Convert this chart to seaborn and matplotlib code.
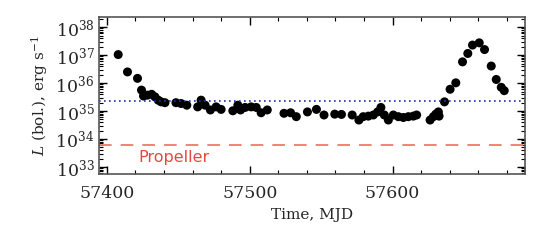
import numpy as np
import pandas as pd
import matplotlib
matplotlib.use("Agg")
import matplotlib.pyplot as plt
import seaborn as sns
from matplotlib.ticker import MultipleLocator, LogLocator

# light curve: time (MJD) and log10 bolometric luminosity
mjd = [57408, 57414.5, 57421.5, 57424.3, 57425.7, 57428.5, 57431.4, 57433.7, 57436, 57438,
       57440.7, 57448.4, 57452, 57456, 57463.6, 57466, 57468.8, 57472.5, 57476.5, 57480,
       57488.2, 57491.7, 57493.6, 57496.8, 57501, 57504.6, 57508, 57512.3, 57524, 57528.6,
       57532.6, 57540.4, 57546.7, 57552, 57559.5, 57564.2, 57571.7, 57576.4, 57579.4, 57583,
       57586.5, 57589.5, 57591.8, 57594.2, 57597, 57600.5, 57604, 57607.5, 57611, 57614.5,
       57616.8, 57626.2, 57628.5, 57630.2, 57632, 57632.5, 57636.3, 57640.2, 57644.2, 57648.9,
       57652.6, 57655.9, 57660.6, 57664.3, 57669, 57672.5, 57676, 57678.1]
log_lum = [37.02, 36.40, 36.17, 35.75, 35.54, 35.57, 35.60, 35.51, 35.39, 35.33,
           35.30, 35.30, 35.27, 35.21, 35.15, 35.39, 35.21, 35.04, 35.15, 35.06,
           35.01, 35.21, 35.04, 35.13, 35.15, 35.13, 34.94, 35.04, 34.92, 34.94,
           34.80, 34.97, 35.06, 34.86, 34.89, 34.88, 34.86, 34.68, 34.80, 34.82,
           34.86, 34.97, 35.13, 34.86, 34.68, 34.86, 34.80, 34.77, 34.80, 34.82,
           34.86, 34.68, 34.80, 34.89, 34.97, 34.82, 35.33, 35.78, 36.01, 36.76,
           37.06, 37.36, 37.44, 37.20, 36.61, 36.13, 35.85, 35.73]

L_blue = 2.3e35       # dotted reference level
L_propeller = 6.0e33  # propeller threshold

df = pd.DataFrame({"mjd": mjd, "L": 10 ** np.array(log_lum)})

sns.set_style("ticks")
plt.rcParams["font.family"] = ["DejaVu Serif"]
plt.rcParams["mathtext.fontset"] = "dejavuserif"

fig = plt.figure(figsize=(5.45, 2.41), dpi=100)
ax = fig.add_axes([0.182, 0.278, 0.781, 0.651])

sns.scatterplot(data=df, x="mjd", y="L", color="black", s=42, edgecolor="none", ax=ax)
ax.axhline(L_blue, color="#1f2fb0", ls=(0, (1, 2)), lw=1.2)
ax.axhline(L_propeller, color="#f07a6a", ls=(0, (7, 5)), lw=1.3)
ax.text(57422, 10 ** 33.35, "Propeller", color="#e04a40", fontsize=11.5,
        family=["DejaVu Sans"], va="center", ha="left")

ax.set_yscale("log")
ax.set_xlim(57394.7, 57692.5)
ax.set_ylim(10 ** 32.75, 10 ** 38.36)
ax.xaxis.set_major_locator(MultipleLocator(100))
ax.xaxis.set_minor_locator(MultipleLocator(20))
ax.yaxis.set_major_locator(LogLocator(base=10, numticks=10))
ax.yaxis.set_minor_locator(LogLocator(base=10, subs=np.arange(2, 10), numticks=20))

ax.tick_params(which="both", direction="in", top=True, right=True, color="black")
ax.tick_params(which="major", length=6, width=1, labelsize=12.5)
ax.tick_params(which="minor", length=3, width=0.8)
ax.tick_params(axis="x", which="major", pad=8)
for sp in ax.spines.values():
    sp.set_color("#555555")
    sp.set_linewidth(1.2)

ax.set_xlabel("Time, MJD", fontsize=11)
ax.set_ylabel(r"$L$ (bol.), erg s$^{-1}$", fontsize=11)

fig.savefig("out.png", dpi=100)
